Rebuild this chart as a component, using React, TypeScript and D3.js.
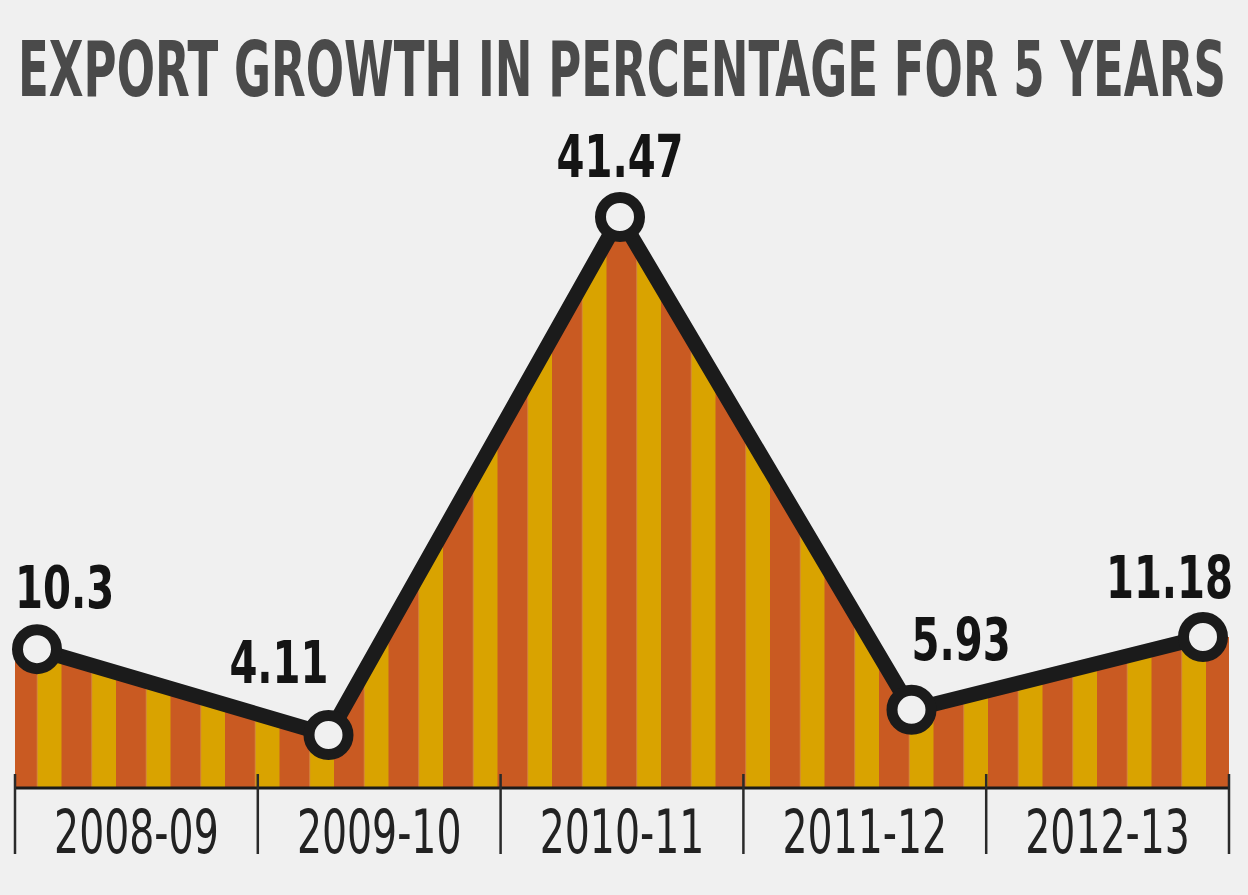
import React, { useEffect } from "react";
import * as d3 from "d3";

const categories = ["2008-09", "2009-10", "2010-11", "2011-12", "2012-13"];
const growth = [10.3, 4.11, 41.47, 5.93, 11.18];
const valueLabels = ["10.3", "4.11", "41.47", "5.93", "11.18"];
const title = "EXPORT GROWTH IN PERCENTAGE FOR 5 YEARS";

// label placement config (layout, not data)
const labelPlacement = [
  { anchor: "start", dx: -22, dy: -41 },
  { anchor: "end", dx: 0, dy: -52 },
  { anchor: "middle", dx: 0, dy: -40 },
  { anchor: "start", dx: 0, dy: -50 },
  { anchor: "end", dx: 30, dy: -39 },
];

const W = 1248;
const H = 895;
const BG = "#f0f0f0";
const ORANGE = "#c95a22";
const YELLOW = "#d9a300";
const FONT = "'Liberation Sans Narrow', 'DejaVu Sans Condensed', sans-serif";

export default function App() {
  useEffect(() => {
    document.body.style.margin = "0";
    document.body.style.background = BG;
  }, []);

  const left = 15;
  const right = 1229;
  const axisY = 788;

  const band = d3.scaleBand<string>().domain(categories).range([left, right]);
  const x = d3.scalePoint<string>().domain(categories).range([37, 1203]);
  const y = d3.scaleLinear().domain([0, 41.47]).range([792, 217]);

  const pts = categories.map((c, i) => ({ cx: x(c)!, cy: y(growth[i]), v: growth[i] }));
  const areaPts: [number, number][] = [
    [left, y(growth[0])],
    ...pts.map((p) => [p.cx, p.cy] as [number, number]),
    [right, y(growth[growth.length - 1])],
  ];
  const areaGen = d3
    .area<[number, number]>()
    .x((d) => d[0])
    .y0(axisY)
    .y1((d) => d[1]);
  const lineGen = d3
    .line<{ cx: number; cy: number }>()
    .x((d) => d.cx)
    .y((d) => d.cy);

  const ticks = [...categories.map((c) => band(c)!), right];

  return (
    <svg width={W} height={H} style={{ display: "block", background: BG }}>
      <defs>
        <pattern id="stripes" patternUnits="userSpaceOnUse" x={7} y={0} width={54.5} height={10}>
          <rect x={0} y={0} width={30.5} height={10} fill={ORANGE} />
          <rect x={30.5} y={0} width={24} height={10} fill={YELLOW} />
        </pattern>
      </defs>
      <rect x={0} y={0} width={W} height={H} fill={BG} />
      <text
        transform="translate(18,96) scale(1,1.333)"
        fontFamily={FONT}
        fontWeight="bold"
        fontSize={57}
        fill="#4a4a4a"
        textLength={1208}
        lengthAdjust="spacingAndGlyphs"
      >
        {title}
      </text>

      <path d={areaGen(areaPts) || ""} fill="url(#stripes)" />

      <line x1={left} x2={right} y1={axisY} y2={axisY} stroke="#1a1a1a" strokeWidth={3} />
      {ticks.map((t, i) => (
        <line key={i} x1={t} x2={t} y1={774} y2={854} stroke="#2a2a2a" strokeWidth={2.5} />
      ))}
      {categories.map((c) => (
        <text
          key={c}
          transform={`translate(${band(c)! + band.bandwidth() / 2},853) scale(0.73,1)`}
          textAnchor="middle"
          fontFamily={FONT}
          fontSize={60}
          fill="#222"
        >
          {c}
        </text>
      ))}

      <path
        d={lineGen(pts) || ""}
        fill="none"
        stroke="#1b1b1b"
        strokeWidth={15}
        strokeLinejoin="round"
      />
      {pts.map((p, i) => (
        <circle key={i} cx={p.cx} cy={p.cy} r={19.5} fill={BG} stroke="#1b1b1b" strokeWidth={11} />
      ))}
      {pts.map((p, i) => (
        <text
          key={"l" + i}
          transform={`translate(${p.cx + labelPlacement[i].dx},${p.cy + labelPlacement[i].dy}) scale(0.77,1)`}
          textAnchor={labelPlacement[i].anchor as any}
          fontFamily={FONT}
          fontWeight="bold"
          fontSize={58}
          fill="#141414"
        >
          {valueLabels[i]}
        </text>
      ))}
    </svg>
  );
}
